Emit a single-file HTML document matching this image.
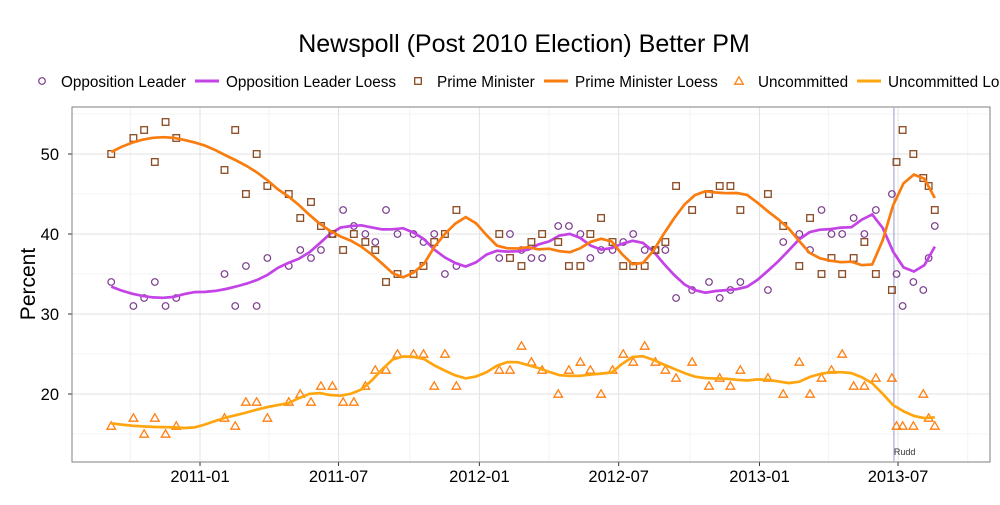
<!DOCTYPE html>
<html><head><meta charset="utf-8">
<style>
body{margin:0;background:#fff;font-family:"Liberation Sans",sans-serif;}
svg text{font-family:"Liberation Sans",sans-serif;}
</style></head>
<body>
<svg id="chart" width="1000" height="500">
<text x="524" y="52" text-anchor="middle" font-size="25" fill="#000">Newspoll (Post 2010 Election) Better PM</text>
<g id="legend"></g>
<g id="grid"></g>
<g id="marks"></g>
<text transform="translate(35,284) rotate(-90)" text-anchor="middle" font-size="21">Percent</text>
</svg>
<script>
// day offset from 2011-01-01
const dayOffsets=[-116,-87,-73,-59,-45,-31,32,46,60,74,88,116,131,145,158,173,187,201,216,229,243,258,279,292,306,320,335,391,405,420,433,447,468,482,497,510,524,539,553,566,581,595,608,622,643,665,679,693,706,742,762,783,797,812,825,839,854,868,883,904,910,918,932,945,952,960];
const oppLeader=[34,31,32,34,31,32,35,31,36,31,37,36,38,37,38,40,43,41,40,39,43,40,40,39,40,35,36,37,40,38,37,37,41,41,40,37,38,38,39,40,38,38,38,32,33,34,32,33,34,33,39,40,38,43,40,40,42,40,43,45,35,31,34,33,37,41];
const primeMinister=[50,52,53,49,54,52,48,53,45,50,46,45,42,44,41,40,38,40,39,38,34,35,35,36,39,40,43,40,37,36,39,40,39,36,36,40,42,39,36,36,36,38,39,46,43,45,46,46,43,45,41,36,42,35,37,35,37,39,35,33,49,53,50,47,46,43];
const uncommitted=[16,17,15,17,15,16,17,16,19,19,17,19,20,19,21,21,19,19,21,23,23,25,25,25,21,25,21,23,23,26,24,23,20,23,24,23,20,23,25,24,26,24,23,22,24,21,22,21,23,22,20,24,20,22,23,25,21,21,22,22,16,16,16,20,17,16];
const yTicks=[20,30,40,50];
const xTickDays=[0,181,365,547,731,912];
const xTickLabels=["2011-01","2011-07","2012-01","2012-07","2013-01","2013-07"];
const ruddDay=904;

const L=72,R=990,T=107,B=462;
const X=d=>200+d*0.7654;
const Y=v=>554-8*v;
const NS="http://www.w3.org/2000/svg";
function mk(tag,attrs,parent){const e=document.createElementNS(NS,tag);for(const k in attrs)e.setAttribute(k,attrs[k]);parent.appendChild(e);return e;}
const grid=document.getElementById('grid'),marks=document.getElementById('marks'),legend=document.getElementById('legend');
for(let v=15;v<=55;v+=10){const g=mk('line',{x1:L,x2:R,y1:Y(v),y2:Y(v),stroke:'#f3f3f3','stroke-width':1},grid);}
for(let i=0;i<xTickDays.length;i++){const md=xTickDays[i]-91;const g=mk('line',{x1:X(md),x2:X(md),y1:T,y2:B,stroke:'#f3f3f3','stroke-width':1},grid);}
{const g=mk('line',{x1:X(1003),x2:X(1003),y1:T,y2:B,stroke:'#f3f3f3'},grid);}
yTicks.forEach(v=>{
 const g=mk('line',{x1:L,x2:R,y1:Y(v),y2:Y(v),stroke:'#e2e2e2','stroke-width':1},grid);
 
 const t=mk('text',{x:L-13,y:Y(v)+6,'text-anchor':'end','font-size':16.5,fill:'#000'},grid);t.textContent=v;
 
 mk('line',{x1:L-4,x2:L,y1:Y(v),y2:Y(v),stroke:'#333'},grid);
});
xTickDays.forEach((d,i)=>{
 const g=mk('line',{x1:X(d),x2:X(d),y1:T,y2:B,stroke:'#e2e2e2','stroke-width':1},grid);
 
 const t=mk('text',{x:X(d),y:B+20,'text-anchor':'middle','font-size':16.5,fill:'#000'},grid);t.textContent=xTickLabels[i];
 
 mk('line',{x1:X(d),x2:X(d),y1:B,y2:B+4,stroke:'#333'},grid);
});
{const b=mk('rect',{x:L,y:T,width:R-L,height:B-T,fill:'none',stroke:'#7f7f7f','stroke-width':1},grid);}
{const r=mk('line',{x1:X(ruddDay)+2,x2:X(ruddDay)+2,y1:T,y2:B,stroke:'#a8a8d8','stroke-width':1.2},marks);
 const t=mk('text',{x:X(ruddDay)+2,y:455,'font-size':9,fill:'#333'},marks);t.textContent='Rudd';}

function loess(xs,ys,x0,span){
 const n=xs.length,q=Math.max(3,Math.floor(span*n));
 const d=xs.map(x=>Math.abs(x-x0));const sd=[...d].sort((a,b)=>a-b);const h=sd[q-1]*1.0001||1;
 let S=[[0,0,0],[0,0,0],[0,0,0]],b=[0,0,0];
 for(let i=0;i<n;i++){const u=d[i]/h;if(u>=1)continue;const w=Math.pow(1-u*u*u,3);const t=(xs[i]-x0)/100;const p=[1,t,t*t];
  for(let a=0;a<3;a++){b[a]+=w*p[a]*ys[i];for(let c=0;c<3;c++)S[a][c]+=w*p[a]*p[c];}}
 const M=S.map((r,i)=>[...r,b[i]]);
 for(let i=0;i<3;i++){let p=i;for(let k=i+1;k<3;k++)if(Math.abs(M[k][i])>Math.abs(M[p][i]))p=k;[M[i],M[p]]=[M[p],M[i]];
  for(let k=0;k<3;k++)if(k!==i){const f=M[k][i]/M[i][i];for(let c=i;c<4;c++)M[k][c]-=f*M[i][c];}}
 return M[0][3]/M[0][0];
}
function drawLoess(ys,color,name){
 const x0=dayOffsets[0],x1=dayOffsets[dayOffsets.length-1];let pts=[];
 for(let i=0;i<80;i++){const x=x0+(x1-x0)*i/79;pts.push(X(x).toFixed(1)+','+Y(loess(dayOffsets,ys,x,0.17)).toFixed(1));}
 const p=mk('polyline',{points:pts.join(' '),fill:'none',stroke:color,'stroke-width':2.7},marks);
 
}
function pt(shape,x,y,color,parent){
 if(shape==='circle')return mk('circle',{cx:x,cy:y,r:3.3,fill:'none',stroke:color,'stroke-width':1.2},parent);
 if(shape==='square')return mk('rect',{x:x-3.3,y:y-3.3,width:6.6,height:6.6,fill:'none',stroke:color,'stroke-width':1.3},parent);
 return mk('polygon',{points:`${x},${y-4.2} ${x+4.3},${y+3.2} ${x-4.3},${y+3.2}`,fill:'none',stroke:color,'stroke-width':1.3},parent);
}
const series=[
 {vals:oppLeader,shape:'circle',pc:'#7a3a8e',lc:'#c343e6',name:'opposition-leader'},
 {vals:primeMinister,shape:'square',pc:'#8a4a22',lc:'#f97c0e',name:'prime-minister'},
 {vals:uncommitted,shape:'triangle',pc:'#ff7f10',lc:'#ffa510',name:'uncommitted'}];
series.forEach(s=>{
 s.vals.forEach((v,i)=>{const e=pt(s.shape,X(dayOffsets[i]),Y(v),s.pc,marks);
  });
 drawLoess(s.vals,s.lc,s.name+'-loess');
});
const leg=[
 {type:'circle',c:'#7a3a8e',x:42,tx:61,label:'Opposition Leader',name:'legend-opposition-leader'},
 {type:'line',c:'#c343e6',x:195,tx:226,label:'Opposition Leader Loess',name:'legend-opposition-leader-loess'},
 {type:'square',c:'#8a4a22',x:418,tx:437,label:'Prime Minister',name:'legend-prime-minister'},
 {type:'line',c:'#f97c0e',x:544,tx:575,label:'Prime Minister Loess',name:'legend-prime-minister-loess'},
 {type:'triangle',c:'#ff7f10',x:739,tx:758,label:'Uncommitted',name:'legend-uncommitted'},
 {type:'line',c:'#ffa510',x:857,tx:888,label:'Uncommitted Loess',name:'legend-uncommitted-loess'}];
leg.forEach(l=>{
 const g=mk('g',{},legend);
 if(l.type==='line'){mk('line',{x1:l.x,x2:l.x+24,y1:81,y2:81,stroke:l.c,'stroke-width':3},g);}
 else{pt(l.type,l.x,81,l.c,g);}
 const t=mk('text',{x:l.tx,y:87,'font-size':15.3,fill:'#000'},g);t.textContent=l.label;
});
</script>
</body></html>
